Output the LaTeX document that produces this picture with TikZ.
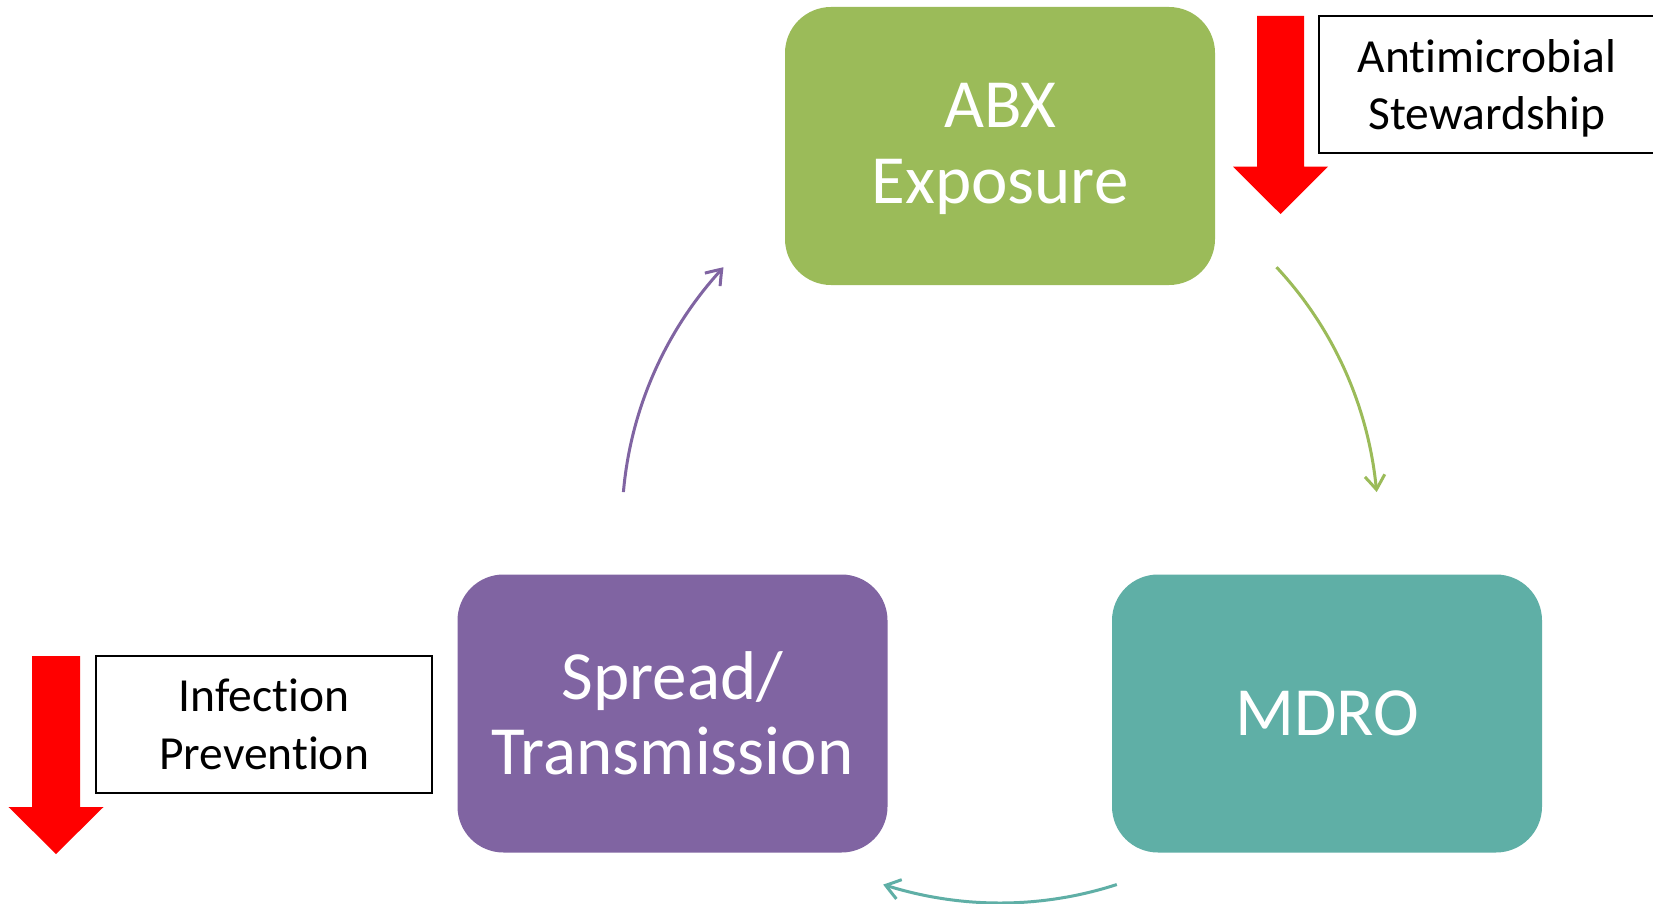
\documentclass[tikz,border=0pt]{standalone}
\usepackage{fontspec}
\setmainfont{Carlito}[Ligatures={NoCommon}]
\usetikzlibrary{arrows.meta,bending}
\definecolor{abxgreen}{HTML}{9BBB59}
\definecolor{mdroteal}{HTML}{5FAFA6}
\definecolor{spreadpurple}{HTML}{8064A2}
\definecolor{stopred}{HTML}{FF0000}
\tikzset{
  cyclebox/.style={rounded corners=46pt, minimum width=430pt, minimum height=278pt,
    inner sep=0pt, text=white, align=center, font=\fontsize{69}{75.5}\selectfont},
  notebox/.style={draw=black, line width=2.3pt, inner sep=0pt, align=center,
    text=black, font=\fontsize{47.5}{57.5}\selectfont},
  cyclearrow/.style={line width=3pt, -{Straight Barb[length=14pt,width=20pt,bend]}},
  redarrow/.style={fill=stopred, draw=none}
}
\begin{document}
\begin{tikzpicture}[x=1pt, y=-1pt]
  \useasboundingbox (0,0) rectangle (1653,904);
  \fill[white] (0,0) rectangle (1653,904);

  % the three stages of the cycle
  \node[cyclebox, fill=abxgreen, text depth=5pt] (abx) at (1000,146) {ABX\\Exposure};
  \node[cyclebox, fill=mdroteal] (mdro) at (1327,713.5) {MDRO};
  \node[cyclebox, fill=spreadpurple] (spread) at (672.5,713.5) {Spread/\\Transmission};

  % curved connectors on a circle around the cycle centre
  \coordinate (g1) at (1276.5,267.2);
  \coordinate (t1) at (1116.8,884.5);
  \coordinate (p1) at (623.4,492.1);
  \draw[cyclearrow, abxgreen] (g1) arc[start angle=43, end angle=5, radius=378pt];
  \draw[cyclearrow, mdroteal] (t1) arc[start angle=-72, end angle=-108, radius=378pt];
  \draw[cyclearrow, spreadpurple] (p1) arc[start angle=175, end angle=137, radius=378pt];

  % interventions
  \node[notebox, minimum width=336pt, minimum height=137pt, text depth=0pt] (ams) at (1487,84.5)
    {Antimicrobial\\Stewardship};
  \node[notebox, minimum width=336.6pt, minimum height=136.7pt] (ip) at (264,724.3)
    {Infection\\Prevention};

  % downward red arrows
  \fill[redarrow] (1257,16) -- (1304,16) -- (1304,166.7) -- (1328,166.7)
    -- (1280.5,214) -- (1233,166.7) -- (1257,166.7) -- cycle;
  \fill[redarrow] (32,656) -- (80,656) -- (80,807) -- (103.5,807)
    -- (56,854) -- (8.5,807) -- (32,807) -- cycle;
\end{tikzpicture}
\end{document}
